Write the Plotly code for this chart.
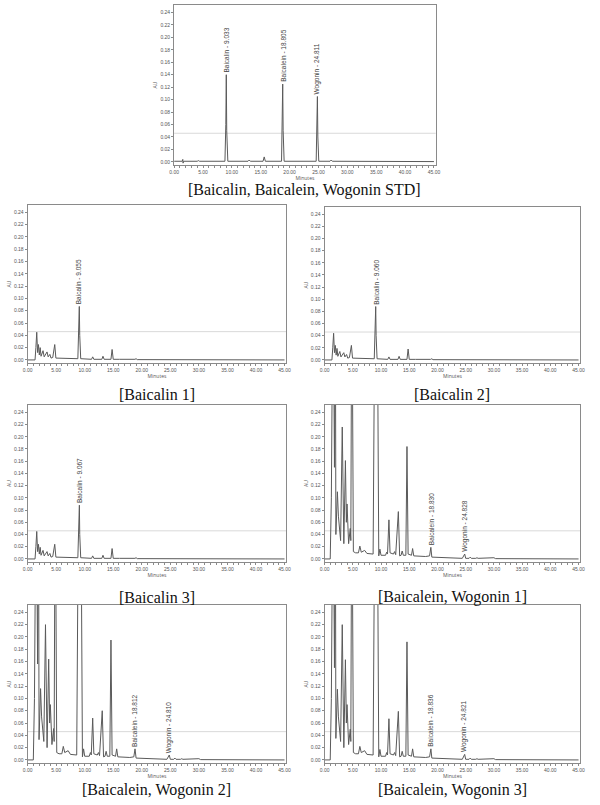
import plotly.graph_objects as go

W, H = 600, 805

# ---------------- data (time in minutes, absorbance in AU) ----------------
std_t = [0, 1.4, 1.5, 1.55, 1.65, 4.0, 4.2, 4.4, 8.8, 8.95, 9.033, 9.11, 9.3, 12.8, 13.0, 13.2,
         15.4, 15.6, 15.8, 18.6, 18.73, 18.805, 18.88, 19.05, 24.6, 24.74, 24.811, 24.89, 25.05,
         27.0, 27.2, 27.4, 45]
std_v = [0.001, 0.001, 0.004, -0.002, 0.001, 0.001, 0.002, 0.001, 0.001, 0.06, 0.140, 0.05, 0.001,
         0.001, 0.003, 0.001, 0.001, 0.008, 0.001, 0.001, 0.06, 0.125, 0.05, 0.001, 0.001, 0.05,
         0.105, 0.04, 0.001, 0.001, 0.003, 0.001, 0.0005]
std_peak_t = [9.033, 18.805, 24.811]
std_peak_text = ["Baicalin - 9.033", "Baicalein - 18.805", "Wogonin - 24.811"]

b1_t = [0, 1.3, 1.45, 1.6, 1.75, 1.9, 2.05, 2.2, 2.35, 2.7, 2.9, 3.4, 3.6, 3.9, 4.1, 4.4, 4.75, 4.95,
        8.8, 8.97, 9.055, 9.13, 9.3, 11.2, 11.4, 11.6, 13.0, 13.2, 13.4, 14.6, 14.8, 15.0, 15.9, 16.1,
        18.8, 19.0, 19.2, 45]
b1_v = [0.0, 0.0, 0.02, 0.045, 0.012, 0.025, 0.008, 0.02, 0.006, 0.015, 0.005, 0.013, 0.005, 0.009,
        0.003, 0.004, 0.025, 0.003, 0.002, 0.05, 0.087, 0.04, 0.002, 0.001, 0.005, 0.001, 0.001,
        0.006, 0.001, 0.001, 0.017, 0.001, 0.002, 0.001, 0.001, 0.002, 0.0005, 0.0]
b1_peak_t = [9.055]
b1_peak_text = ["Baicalin - 9.055"]

b2_t = [0, 1.3, 1.45, 1.6, 1.75, 1.9, 2.05, 2.2, 2.35, 2.7, 2.9, 3.4, 3.6, 3.9, 4.1, 4.4, 4.75, 4.95,
        8.8, 8.97, 9.060, 9.13, 9.3, 11.2, 11.4, 11.6, 13.0, 13.2, 13.4, 14.6, 14.8, 15.0, 15.9, 16.1,
        18.8, 19.0, 19.2, 45]
b2_v = [0.0, 0.0, 0.02, 0.044, 0.012, 0.024, 0.008, 0.019, 0.006, 0.014, 0.005, 0.012, 0.005, 0.009,
        0.003, 0.004, 0.024, 0.003, 0.002, 0.05, 0.088, 0.04, 0.002, 0.001, 0.005, 0.001, 0.001,
        0.006, 0.001, 0.001, 0.018, 0.001, 0.002, 0.001, 0.001, 0.002, 0.0005, 0.0]
b2_peak_t = [9.060]
b2_peak_text = ["Baicalin - 9.060"]

b3_t = [0, 1.3, 1.45, 1.6, 1.75, 1.9, 2.05, 2.2, 2.35, 2.7, 2.9, 3.4, 3.6, 3.9, 4.1, 4.4, 4.75, 4.95,
        8.8, 8.97, 9.067, 9.13, 9.3, 11.2, 11.4, 11.6, 13.0, 13.2, 13.4, 14.6, 14.8, 15.0, 15.9, 16.1,
        18.8, 19.0, 19.2, 45]
b3_v = [0.0, 0.0, 0.02, 0.045, 0.012, 0.024, 0.008, 0.019, 0.006, 0.014, 0.005, 0.012, 0.005, 0.009,
        0.003, 0.004, 0.024, 0.003, 0.002, 0.05, 0.088, 0.04, 0.002, 0.001, 0.005, 0.001, 0.001,
        0.006, 0.001, 0.001, 0.017, 0.001, 0.002, 0.001, 0.001, 0.002, 0.0005, 0.0]
b3_peak_t = [9.067]
b3_peak_text = ["Baicalin - 9.067"]

w1_t = [0, 1.0, 1.2, 1.5, 1.75, 1.9, 2.0, 2.27, 2.45, 2.6, 2.84, 3.13, 3.41, 3.69, 3.86, 3.98, 4.15,
        4.26, 4.55, 4.65, 4.83, 5.1, 5.5, 6.0, 6.25, 6.5, 7.1, 7.5, 8.6, 8.95, 9.1, 9.3, 9.6, 9.8,
        10.0, 10.8, 11.0, 11.15, 11.4, 11.6, 12.2, 12.4, 12.6, 13.07, 13.3, 13.55, 13.75, 13.95, 14.4,
        14.6, 14.8, 15.4, 15.6, 15.8, 17.9, 18.6, 18.830, 19.0, 24.4, 24.828, 25.0, 25.6, 25.8, 26.0,
        26.8, 27.0, 27.2, 29.8, 30.0, 30.3, 45]
w1_v = [0.0, 0.0, 0.1, 0.5, 0.15, 0.5, 0.04, 0.11, 0.07, 0.05, 0.03, 0.216, 0.025, 0.161, 0.06, 0.09,
        0.04, 0.025, 0.05, 0.03, 0.5, 0.012, 0.01, 0.01, 0.021, 0.011, 0.014, 0.009, 0.008, 0.5, 0.5,
        0.5, 0.005, 0.016, 0.006, 0.006, 0.011, 0.008, 0.064, 0.01, 0.008, 0.012, 0.007, 0.0775,
        0.005, 0.006, 0.013, 0.006, 0.006, 0.184, 0.008, 0.006, 0.017, 0.005, 0.004, 0.005, 0.019,
        0.003, 0.001, 0.008, 0.001, 0.001, 0.003, 0.001, 0.001, 0.002, 0.001, 0.001, 0.002, 0.0005, 0.0]
w1_peak_t = [18.830, 24.828]
w1_peak_text = ["Baicalein - 18.830", "Wogonin - 24.828"]

w2_t = [0, 1.0, 1.2, 1.5, 1.75, 1.9, 2.0, 2.27, 2.45, 2.6, 2.84, 3.13, 3.41, 3.69, 3.86, 3.98, 4.15,
        4.26, 4.55, 4.65, 4.83, 5.1, 5.5, 6.0, 6.25, 6.5, 7.1, 7.5, 8.6, 8.95, 9.1, 9.3, 9.6, 9.8,
        10.0, 10.8, 11.0, 11.15, 11.4, 11.6, 12.2, 12.4, 12.6, 13.07, 13.3, 13.55, 13.75, 13.95, 14.4,
        14.6, 14.8, 15.4, 15.6, 15.8, 17.9, 18.6, 18.812, 19.0, 24.4, 24.810, 25.0, 25.6, 25.8, 26.0,
        26.8, 27.0, 27.2, 29.8, 30.0, 30.3, 45]
w2_v = [0.0, 0.0, 0.1, 0.5, 0.156, 0.5, 0.033, 0.116, 0.07, 0.05, 0.03, 0.22, 0.02, 0.164, 0.06, 0.09,
        0.04, 0.025, 0.051, 0.03, 0.5, 0.012, 0.01, 0.01, 0.022, 0.012, 0.015, 0.009, 0.008, 0.5, 0.5,
        0.5, 0.005, 0.018, 0.006, 0.006, 0.012, 0.008, 0.068, 0.01, 0.008, 0.012, 0.007, 0.080,
        0.005, 0.006, 0.014, 0.006, 0.006, 0.195, 0.008, 0.006, 0.018, 0.005, 0.004, 0.005, 0.018,
        0.003, 0.001, 0.008, 0.001, 0.001, 0.003, 0.001, 0.001, 0.002, 0.001, 0.001, 0.002, 0.0005, 0.0]
w2_peak_t = [18.812, 24.810]
w2_peak_text = ["Baicalein - 18.812", "Wogonin - 24.810"]

w3_t = [0, 1.0, 1.2, 1.5, 1.75, 1.9, 2.0, 2.27, 2.45, 2.6, 2.84, 3.13, 3.41, 3.69, 3.86, 3.98, 4.15,
        4.26, 4.55, 4.65, 4.83, 5.1, 5.5, 6.0, 6.25, 6.5, 7.1, 7.5, 8.6, 8.95, 9.1, 9.3, 9.6, 9.8,
        10.0, 10.8, 11.0, 11.15, 11.4, 11.6, 12.2, 12.4, 12.6, 13.07, 13.3, 13.55, 13.75, 13.95, 14.4,
        14.6, 14.8, 15.4, 15.6, 15.8, 17.9, 18.6, 18.836, 19.0, 24.4, 24.821, 25.0, 25.6, 25.8, 26.0,
        26.8, 27.0, 27.2, 29.8, 30.0, 30.3, 45]
w3_v = [0.0, 0.0, 0.1, 0.5, 0.15, 0.5, 0.035, 0.115, 0.07, 0.05, 0.03, 0.22, 0.02, 0.163, 0.06, 0.09,
        0.04, 0.025, 0.05, 0.03, 0.5, 0.012, 0.01, 0.01, 0.022, 0.012, 0.015, 0.009, 0.008, 0.5, 0.5,
        0.5, 0.005, 0.017, 0.006, 0.006, 0.012, 0.008, 0.067, 0.01, 0.008, 0.012, 0.007, 0.079,
        0.005, 0.006, 0.014, 0.006, 0.006, 0.192, 0.008, 0.006, 0.018, 0.005, 0.004, 0.005, 0.018,
        0.003, 0.001, 0.009, 0.001, 0.001, 0.003, 0.001, 0.001, 0.002, 0.001, 0.001, 0.002, 0.0005, 0.0]
w3_peak_t = [18.836, 24.821]
w3_peak_text = ["Baicalein - 18.836", "Wogonin - 24.821"]

captions = ["[Baicalin, Baicalein, Wogonin STD]", "[Baicalin 1]", "[Baicalin 2]", "[Baicalin 3]",
            "[Baicalein, Wogonin 1]", "[Baicalein, Wogonin 2]", "[Baicalein, Wogonin 3]"]

y_ticks = [0.00, 0.02, 0.04, 0.06, 0.08, 0.10, 0.12, 0.14, 0.16, 0.18, 0.20, 0.22, 0.24]
x_ticks = [0, 5, 10, 15, 20, 25, 30, 35, 40, 45]

# ---------------- layout geometry (pixels) ----------------
# (left, right, top, bottom, caption_y)
geom = [
    (172, 438, 5, 165, 190),
    (23, 286, 205, 363, 395),
    (325, 585, 207, 363, 395),
    (23, 286, 405, 562, 597),
    (325, 585, 405, 562, 597),
    (23, 286, 605, 763, 790),
    (325, 585, 605, 763, 790),
]
series = [(std_t, std_v, std_peak_t, std_peak_text),
          (b1_t, b1_v, b1_peak_t, b1_peak_text),
          (b2_t, b2_v, b2_peak_t, b2_peak_text),
          (b3_t, b3_v, b3_peak_t, b3_peak_text),
          (w1_t, w1_v, w1_peak_t, w1_peak_text),
          (w2_t, w2_v, w2_peak_t, w2_peak_text),
          (w3_t, w3_v, w3_peak_t, w3_peak_text)]

AX = "#8a8a8a"
TXT = "#555555"
fig = go.Figure()
annotations = []
shapes = []
layout = {}

for i, ((l, r, t, b, cy), (ts, vs, pts, ptxt), cap) in enumerate(zip(geom, series, captions)):
    n = "" if i == 0 else str(i + 1)
    xa, ya = "x" + n, "y" + n
    fig.add_trace(go.Scatter(x=ts, y=vs, mode="lines", xaxis=xa, yaxis=ya,
                             line=dict(color="#5a5a5a", width=1), hoverinfo="skip",
                             showlegend=False))
    common = dict(showline=True, linecolor=AX, linewidth=1, mirror=True, ticks="outside",
                  tickcolor=AX, ticklen=2, tickwidth=1, showgrid=False, zeroline=False,
                  tickfont=dict(size=5, color=TXT, family="Liberation Sans"))
    layout["xaxis" + n] = dict(common, domain=[l / W, r / W], anchor=ya, range=[0, 45.3],
                               tickvals=x_ticks, tickformat=".2f",
                               minor=dict(dtick=1, ticks="outside", ticklen=1.5, tickcolor=AX),
                               title=dict(text="Minutes", font=dict(size=5, color=TXT), standoff=1))
    layout["yaxis" + n] = dict(common, domain=[1 - b / H, 1 - t / H], anchor=xa,
                               range=[-0.005, 0.252], tickvals=y_ticks, tickformat=".2f",
                               title=dict(text="AU", font=dict(size=5, color=TXT), standoff=2))
    # faint horizontal scan line
    shapes.append(dict(type="line", xref=xa + " domain", yref=ya, x0=0, x1=1, y0=0.046, y1=0.046,
                       line=dict(color="#d9d9d9", width=1), layer="below"))
    # peak labels
    for pt, tx in zip(pts, ptxt):
        pv = vs[ts.index(pt)]
        annotations.append(dict(x=pt, y=pv, xref=xa, yref=ya, text=tx, showarrow=False,
                                textangle=-90, xanchor="center", yanchor="bottom",
                                font=dict(size=6.5, color="#444444", family="Liberation Sans")))
    annotations.append(dict(x=(l + r) / 2 / W, y=1 - cy / H, xref="paper", yref="paper",
                            text=cap, showarrow=False, xanchor="center", yanchor="middle",
                            font=dict(size=16, color="#111111", family="Liberation Serif")))

fig.update_layout(width=W, height=H, margin=dict(l=0, r=0, t=0, b=0),
                  paper_bgcolor="white", plot_bgcolor="white", showlegend=False,
                  annotations=annotations, shapes=shapes, **layout)
fig.write_html("out.html")
